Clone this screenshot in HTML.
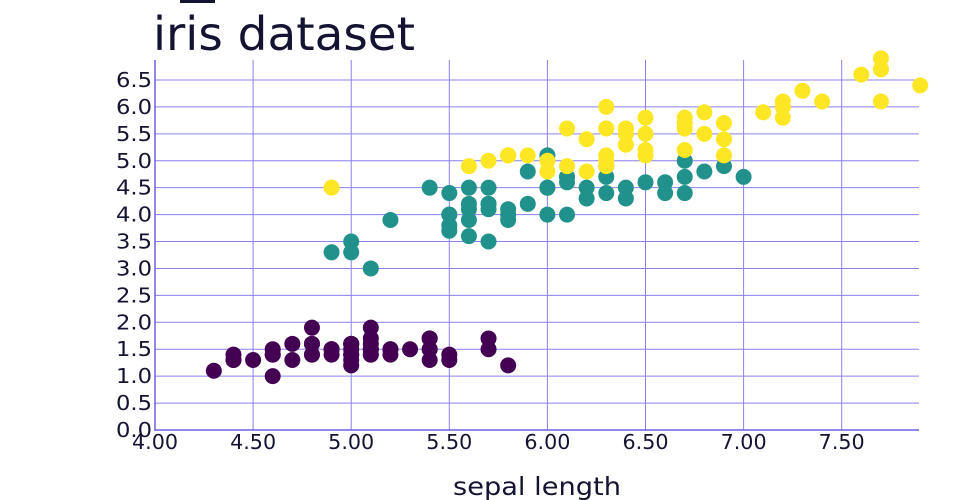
<!DOCTYPE html>
<html><head><meta charset="utf-8"><style>
html,body{margin:0;padding:0;background:#fff;width:960px;height:500px;overflow:hidden}
svg text{font-family:"DejaVu Sans","Liberation Sans",sans-serif;fill:#141432}
</style></head><body>
<svg id="s" width="960" height="500" xmlns="http://www.w3.org/2000/svg">
<rect x="180" y="0" width="35" height="3" fill="#141432"/>
<text x="153" y="50" font-size="46" textLength="262" lengthAdjust="spacingAndGlyphs">iris dataset</text>
<g id="grid"></g>
<g id="pts"></g>
<text x="537" y="495" font-size="25" text-anchor="middle" textLength="168" lengthAdjust="spacingAndGlyphs">sepal length</text>
</svg>
<script>
var X=function(v){return 155+(v-4)*196.2},Y=function(v){return 430-v*53.85};
var ns="http://www.w3.org/2000/svg",g=document.getElementById("grid"),p=document.getElementById("pts");
function el(t,a,par,txt){var e=document.createElementNS(ns,t);for(var k in a)e.setAttribute(k,a[k]);if(txt!=null)e.textContent=txt;par.appendChild(e);return e}
for(var i=1;i<=13;i++){var y=Y(i*0.5);el("line",{x1:155,x2:919,y1:y,y2:y,stroke:"#8a80ee","stroke-width":1},g)}
for(var i=1;i<=7;i++){var x=X(4+i*0.5);el("line",{x1:x,x2:x,y1:60,y2:430,stroke:"#8a80ee","stroke-width":1},g)}
el("line",{x1:155,x2:155,y1:60,y2:431,stroke:"#6a5ee8","stroke-width":1.5},g);
el("line",{x1:155,x2:919,y1:430,y2:430,stroke:"#6a5ee8","stroke-width":1.5},g);
for(var i=0;i<=13;i++)el("text",{x:152,y:Y(i*0.5)+7,"font-size":20,"text-anchor":"end",textLength:36,lengthAdjust:"spacingAndGlyphs"},g,(i*0.5).toFixed(1));
for(var i=0;i<=7;i++)el("text",{x:X(4+i*0.5),y:449,"font-size":20,"text-anchor":"middle",textLength:46,lengthAdjust:"spacingAndGlyphs"},g,(4+i*0.5).toFixed(2));
var d=[
"5.1 1.4,4.9 1.4,4.7 1.3,4.6 1.5,5.0 1.4,5.4 1.7,4.6 1.4,5.0 1.5,4.4 1.4,4.9 1.5,5.4 1.5,4.8 1.6,4.8 1.4,4.3 1.1,5.8 1.2,5.7 1.5,5.4 1.3,5.1 1.4,5.7 1.7,5.1 1.5,5.4 1.7,5.1 1.5,4.6 1.0,5.1 1.7,4.8 1.9,5.0 1.6,5.0 1.6,5.2 1.5,5.2 1.4,4.7 1.6,4.8 1.6,5.4 1.5,5.2 1.5,5.5 1.4,4.9 1.5,5.0 1.2,5.5 1.3,4.9 1.5,4.4 1.3,5.1 1.5,5.0 1.3,4.5 1.3,4.4 1.3,5.0 1.6,5.1 1.9,4.8 1.4,5.1 1.6,4.6 1.4,5.3 1.5,5.0 1.4",
"7.0 4.7,6.4 4.5,6.9 4.9,5.5 4.0,6.5 4.6,5.7 4.5,6.3 4.7,4.9 3.3,6.6 4.6,5.2 3.9,5.0 3.5,5.9 4.2,6.0 4.0,6.1 4.7,5.6 3.6,6.7 4.4,5.6 4.5,5.8 4.1,6.2 4.5,5.6 3.9,5.9 4.8,6.1 4.0,6.3 4.9,6.1 4.7,6.4 4.3,6.6 4.4,6.8 4.8,6.7 5.0,6.0 4.5,5.7 3.5,5.5 3.8,5.5 3.7,5.8 3.9,6.0 5.1,5.4 4.5,6.0 4.5,6.7 4.7,6.3 4.4,5.6 4.1,5.5 4.0,5.5 4.4,6.1 4.6,5.8 4.0,5.0 3.3,5.6 4.2,5.7 4.2,5.7 4.2,6.2 4.3,5.1 3.0,5.7 4.1",
"6.3 6.0,5.8 5.1,7.1 5.9,6.3 5.6,6.5 5.8,7.6 6.6,4.9 4.5,7.3 6.3,6.7 5.8,7.2 6.1,6.5 5.1,6.4 5.3,6.8 5.5,5.7 5.0,5.8 5.1,6.4 5.3,6.5 5.5,7.7 6.7,7.7 6.9,6.0 5.0,6.9 5.7,5.6 4.9,7.7 6.7,6.3 4.9,6.7 5.7,7.2 6.0,6.2 4.8,6.1 4.9,6.4 5.6,7.2 5.8,7.4 6.1,7.9 6.4,6.4 5.6,6.3 5.1,6.1 5.6,7.7 6.1,6.3 5.6,6.4 5.5,6.0 4.8,6.9 5.4,6.7 5.6,6.9 5.1,5.8 5.1,6.8 5.9,6.7 5.7,6.7 5.2,6.3 5.0,6.5 5.2,6.2 5.4,5.9 5.1"];
var c=["#440154","#21918c","#fde725"];
d.forEach(function(s,k){s.split(",").forEach(function(q){var a=q.split(" ");el("circle",{cx:X(+a[0]),cy:Y(+a[1]),r:8,fill:c[k]},p)})});
</script>
</body></html>
